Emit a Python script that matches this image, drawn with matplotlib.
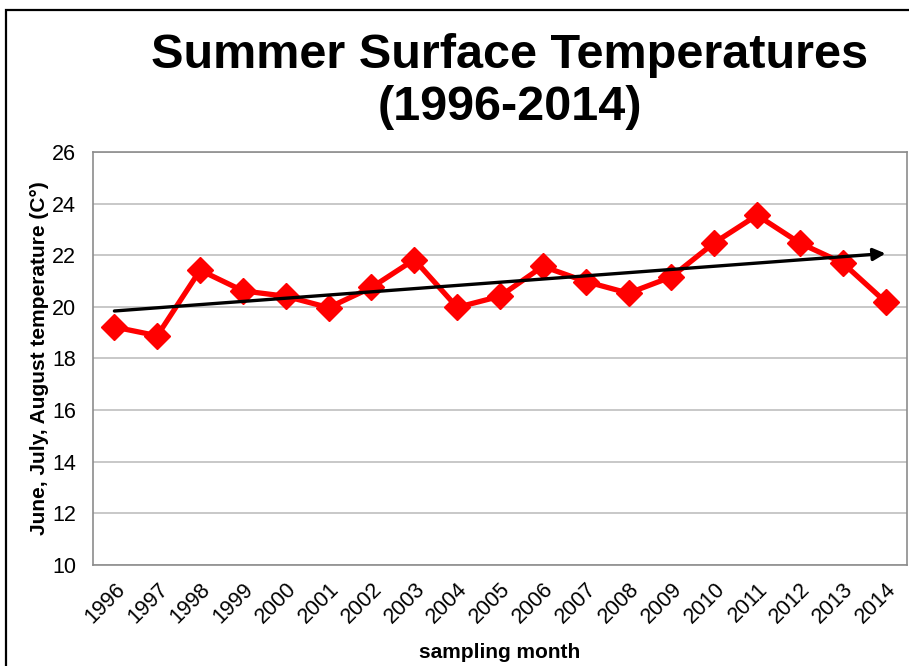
import matplotlib.pyplot as plt
import matplotlib.patches as mpatches
import numpy as np

plt.rcParams['font.family'] = ['Liberation Sans', 'DejaVu Sans']

years = ['1996', '1997', '1998', '1999', '2000', '2001', '2002', '2003', '2004', '2005',
         '2006', '2007', '2008', '2009', '2010', '2011', '2012', '2013', '2014']
temps = [19.22, 18.88, 21.42, 20.62, 20.41, 19.97, 20.75, 21.83, 19.98, 20.41,
         21.57, 20.98, 20.53, 21.16, 22.48, 23.55, 22.47, 21.70, 20.19]
y_ticks = [10, 12, 14, 16, 18, 20, 22, 24, 26]

fig = plt.figure(figsize=(9.09, 6.66), dpi=100)
ax = fig.add_axes([0.1023, 0.1517, 0.8955, 0.6201])

x = np.arange(len(years))

# linear trend like the spreadsheet trendline
slope, intercept = np.polyfit(x, temps, 1)
trend = slope * x + intercept

ax.plot(x, temps, color='#FF0000', linewidth=3.8, marker='D', markersize=13,
        markerfacecolor='#FF0000', markeredgecolor='#FF0000', zorder=3)
ax.annotate('', xy=(x[-1], trend[-1]), xytext=(x[0], trend[0]),
            arrowprops=dict(arrowstyle='-|>', color='black', lw=2.4,
                            mutation_scale=18, shrinkA=0, shrinkB=0),
            zorder=4)

ax.set_xlim(-0.5, len(years) - 0.5)
ax.set_ylim(10, 26)
ax.set_yticks(y_ticks)
ax.set_yticklabels([str(t) for t in y_ticks], fontsize=15.5)
ax.set_xticks(x)
ax.set_xticklabels(years, rotation=45, ha='right', rotation_mode='anchor', fontsize=15.5)
ax.tick_params(length=0)
ax.tick_params(axis='y', pad=12)
ax.tick_params(axis='x', pad=10)
ax.yaxis.grid(True, color='#BFBFBF', linewidth=1.2)
ax.set_axisbelow(True)
for s in ax.spines.values():
    s.set_color('#8C8C8C')
    s.set_linewidth(1.2)

ax.set_ylabel('June, July, August temperature (C°)', fontsize=15, fontweight='bold', labelpad=2)
ax.set_xlabel('sampling month', fontsize=15, fontweight='bold', labelpad=11)

fig.text(0.561, 0.877, 'Summer Surface Temperatures\n(1996-2014)', ha='center', va='center',
         fontsize=35, fontweight='bold', linespacing=1.2)

# outer frame of the original slide
frame = mpatches.Rectangle((6 / 909, -0.1), 1.2, 1 - 10 / 666 + 0.1, transform=fig.transFigure,
                           fill=False, edgecolor='black', linewidth=1.6)
fig.patches.append(frame)

fig.savefig('out.png', dpi=100)
